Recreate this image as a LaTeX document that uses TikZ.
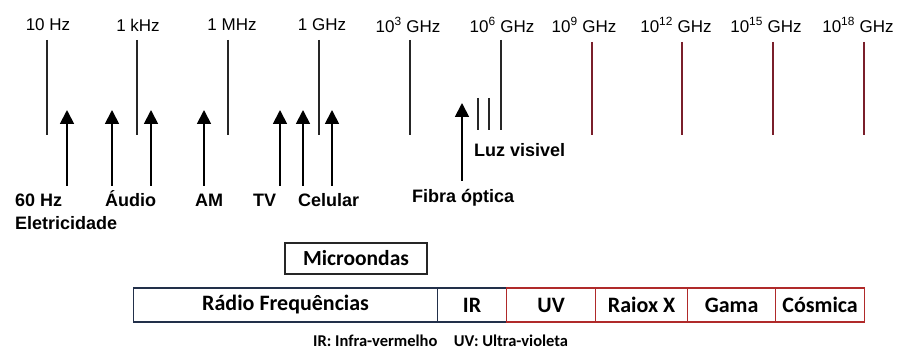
\documentclass[tikz,border=0pt]{standalone}
\usepackage{fontspec}
\setmainfont{Liberation Sans}
\newfontfamily\calib{Carlito}
\usetikzlibrary{arrows.meta}
\definecolor{tickred}{HTML}{7A1F2B}
\definecolor{bandblue}{HTML}{22304A}
\definecolor{bandred}{HTML}{B02A2A}
\begin{document}
\begin{tikzpicture}[x=1pt,y=-1pt,
  tick/.style={line width=1.3pt, draw=black!85},
  redtick/.style={line width=1.3pt, draw=tickred},
  freq/.style={font=\fontsize{17}{17}\selectfont, inner sep=0pt},
  src/.style={font=\bfseries\fontsize{18}{18}\selectfont, inner sep=0pt, anchor=base west},
  up/.style={line width=1.8pt, -{Triangle[length=14pt,width=14pt]}},
  bandtxt/.style={font=\calib\bfseries\fontsize{22}{22}\selectfont},
  seg/.style={bandtxt, line width=1.2pt, minimum height=34pt, inner sep=0pt, anchor=west}
]
\useasboundingbox (0,0) rectangle (903,358);

% frequency labels
\node[freq] (f1) at (48,25) {10 Hz};
\node[freq] (f2) at (138,25) {1 kHz};
\node[freq] (f3) at (232,25) {1 MHz};
\node[freq] (f4) at (322,25) {1 GHz};
\node[freq] (f5) at (408,25) {10\textsuperscript{3} GHz};
\node[freq] (f6) at (502,25) {10\textsuperscript{6} GHz};
\node[freq] (f7) at (584,25) {10\textsuperscript{9} GHz};
\node[freq] (f8) at (676,25) {10\textsuperscript{12} GHz};
\node[freq] (f9) at (766,25) {10\textsuperscript{15} GHz};
\node[freq] (f10) at (858,25) {10\textsuperscript{18} GHz};

% ticks
\foreach \i/\x in {1/47,2/137,3/228,4/319,5/410}{
  \coordinate (t\i a) at (\x,40);
  \coordinate (t\i b) at (\x,135);
  \draw[tick] (t\i a) -- (t\i b);
}
\coordinate (t6a) at (501,40); \coordinate (t6b) at (501,130);
\draw[tick] (t6a) -- (t6b);
\foreach \i/\x in {7/592,8/682,9/773,10/864}{
  \coordinate (t\i a) at (\x,42);
  \coordinate (t\i b) at (\x,135);
  \draw[redtick] (t\i a) -- (t\i b);
}
% visible light lines
\coordinate (v1a) at (478,98); \coordinate (v1b) at (478,130);
\coordinate (v2a) at (489,98); \coordinate (v2b) at (489,130);
\draw[tick] (v1a) -- (v1b);
\draw[tick] (v2a) -- (v2b);

% arrows
\foreach \n/\x in {a1/67,a2/112,a3/151,a4/204,a5/280,a6/303,a7/332}{
  \coordinate (\n s) at (\x,186);
  \coordinate (\n t) at (\x,110);
  \draw[up] (\n s) -- (\n t);
}
\coordinate (a8s) at (462,181); \coordinate (a8t) at (462,103);
\draw[up] (a8s) -- (a8t);

% source labels
\node[src] (l60) at (15,206.5) {60 Hz};
\node[src] (lel) at (15,229.5) {Eletricidade};
\node[src] (lau) at (105,206.5) {Áudio};
\node[src] (lam) at (195,206.5) {AM};
\node[src] (ltv) at (253,206.5) {TV};
\node[src] (lce) at (298,206.5) {Celular};
\node[src] (lfo) at (412,203) {Fibra óptica};
\node[src] (llv) at (474,156.5) {Luz visivel};

% microwaves
\node[bandtxt, font=\calib\bfseries\fontsize{21.5}{21.5}\selectfont, draw=black!85, line width=1.2pt, minimum width=142pt, minimum height=31pt, inner sep=0pt] (mw) at (356,258.5) {Microondas};

% band bar
\node[seg, draw=bandblue, minimum width=304pt] (rf) at (133,305) {Rádio Frequências};
\node[seg, draw=bandblue, minimum width=69pt] (ir) at (437,305) {IR};
\node[seg, draw=bandred, minimum width=89pt] (uv) at (506,305) {UV};
\node[seg, draw=bandred, minimum width=92pt] (rx) at (595,305) {Raiox X};
\node[seg, draw=bandred, minimum width=88pt] (gm) at (687,305) {Gama};
\node[seg, draw=bandred, minimum width=89pt] (cs) at (775,305) {Cósmica};

% legend
\node[anchor=base west, inner sep=0pt, font=\calib\bfseries\fontsize{16.5}{16.5}\selectfont] (leg) at (313,346) {IR: Infra-vermelho\quad UV: Ultra-violeta};
\end{tikzpicture}
\end{document}
